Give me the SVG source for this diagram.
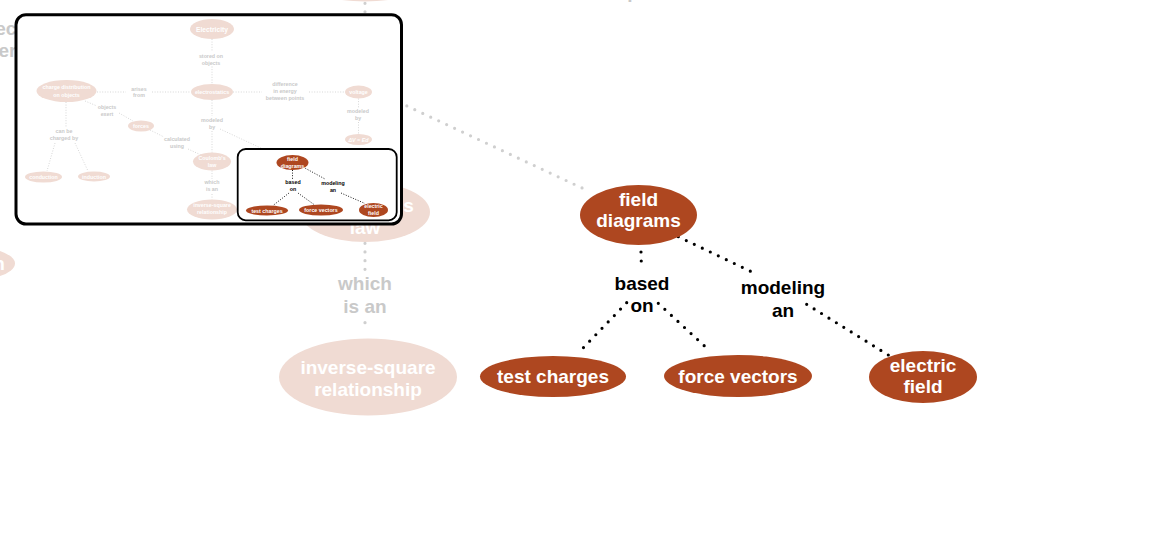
<svg xmlns="http://www.w3.org/2000/svg" width="1173" height="559" viewBox="0 0 1173 559">
<style>
text{font-family:"Liberation Sans",Arial,Helvetica,sans-serif;font-weight:bold;text-anchor:middle}
.t{font-size:19px}
.m{font-size:5.3px}
.w{fill:#ffffff}
.k{fill:#000000}
.g{fill:#c9c9c9}
.fa{fill:#f0dbd3}
.ac{fill:#ae4720}
.dk{fill:none;stroke:#000;stroke-width:3.2;stroke-linecap:round;stroke-dasharray:0 1}
.dg{fill:none;stroke:#cfcfcf;stroke-width:3.2;stroke-linecap:round;stroke-dasharray:0 1}
.mk{fill:none;stroke:#000;stroke-width:0.9;stroke-dasharray:1 1.6}
.mg{fill:none;stroke:#d2d2d2;stroke-width:0.9;stroke-dasharray:1 1.6}
</style>
<rect width="1173" height="559" fill="#ffffff"/>

<g id="connectors">
  <path class="dg" pathLength="6" d="M365,3.3 L365,54"/>
  <path class="dg" pathLength="25" d="M390.9,98.5 L590,191.7"/>
  <path class="dg" pathLength="3" d="M365,243.3 L365,269.3"/>
  <path class="dg" pathLength="1" d="M365,322.7 L365,331.7"/>
  <path class="dk" pathLength="2" d="M641,252 L641.5,270"/>
  <path class="dk" pathLength="8" d="M626.7,302.7 L577.3,354"/>
  <path class="dk" pathLength="8" d="M658.3,303.3 L710.7,351.7"/>
  <path class="dk" pathLength="10" d="M678.3,236.7 L758.3,275"/>
  <path class="dk" pathLength="11" d="M806.7,304.3 L888.3,355"/>
</g>

<g id="node-electrostatics"><ellipse class="fa" cx="365" cy="-27" rx="72" ry="28.5"/></g>
<g id="label-between-points"><text class="t g" x="615" y="-2.5">between points</text></g>
<g id="label-objects-exert"><text class="t g" x="0" y="34.5">objects</text><text class="t g" x="0" y="56.5">exert</text></g>
<g id="node-induction"><ellipse class="fa" cx="-38" cy="263.5" rx="53" ry="18"/><text class="t w" x="-38" y="270">induction</text></g>
<g id="node-coulombs-law"><ellipse class="fa" cx="365" cy="212" rx="65" ry="30"/><text class="t w" x="365" y="212">Coulomb's</text><text class="t w" x="365" y="234">law</text></g>
<g id="label-which-is-an"><text class="t g" x="365" y="290">which</text><text class="t g" x="365" y="313">is an</text></g>
<g id="node-inverse-square"><ellipse class="fa" cx="368" cy="377" rx="89" ry="38.5"/><text class="t w" x="368" y="374">inverse-square</text><text class="t w" x="368" y="395.5">relationship</text></g>

<g id="node-field-diagrams"><ellipse class="ac" cx="638.5" cy="215" rx="58.5" ry="30"/><text class="t w" x="638.5" y="205.7">field</text><text class="t w" x="638.5" y="227.3">diagrams</text></g>
<g id="label-based-on"><text class="t k" x="642" y="289.5">based</text><text class="t k" x="642" y="311.7">on</text></g>
<g id="label-modeling-an"><text class="t k" x="783" y="294">modeling</text><text class="t k" x="783" y="316.5">an</text></g>
<g id="node-test-charges"><ellipse class="ac" cx="553" cy="376.5" rx="73" ry="20.5"/><text class="t w" x="553" y="382.5">test charges</text></g>
<g id="node-force-vectors"><ellipse class="ac" cx="738" cy="376" rx="74" ry="21"/><text class="t w" x="738" y="382.5">force vectors</text></g>
<g id="node-electric-field"><ellipse class="ac" cx="923" cy="377" rx="54" ry="26"/><text class="t w" x="923" y="372">electric</text><text class="t w" x="923" y="392.5">field</text></g>

<g id="minimap">
  <rect x="16" y="14.7" width="385.5" height="209.3" rx="10" fill="#ffffff" stroke="#000" stroke-width="3"/>
  <g id="minimap-connectors">
    <path class="mg" d="M212,39 L212,52 M212,66.5 L212,84"/>
    <path class="mg" d="M97,92 L126,92 M152,92 L191,92"/>
    <path class="mg" d="M233,92 L262,92 M309,92 L345,92"/>
    <path class="mg" d="M358.5,98.5 L358.5,108 M358.5,122 L358.5,134"/>
    <path class="mg" d="M212,100 L212,116 M212,131 L212,152.5"/>
    <path class="mg" d="M220,129 L280,157"/>
    <path class="mg" d="M85,101 L97,106 M119,113 L133,121"/>
    <path class="mg" d="M150,130 L164,137 M188,149 L201,155"/>
    <path class="mg" d="M66,102 L66,128 M55,143 L47,171 M75,143 L88,171"/>
    <path class="mg" d="M212,170.5 L212,179 M212,194 L212,199.5"/>
  </g>
  <g id="mini-electricity"><ellipse class="fa" cx="212" cy="29" rx="22" ry="10"/><text class="w" style="font-size:6.7px" x="212" y="31.5">Electricity</text></g>
  <g id="mini-stored-on"><text class="m g" x="211" y="57.5">stored on</text><text class="m g" x="211" y="64.5">objects</text></g>
  <g id="mini-electrostatics"><ellipse class="fa" cx="212" cy="92" rx="21" ry="8"/><text class="m w" x="212" y="94">electrostatics</text></g>
  <g id="mini-charge-distribution"><ellipse class="fa" cx="66.5" cy="91" rx="30" ry="11"/><text class="m w" x="66.5" y="89.3">charge distribution</text><text class="m w" x="66.5" y="96.5">on objects</text></g>
  <g id="mini-arises-from"><text class="m g" x="139" y="90.5">arises</text><text class="m g" x="139" y="97">from</text></g>
  <g id="mini-difference"><text class="m g" x="285" y="86.3">difference</text><text class="m g" x="285" y="92.9">in energy</text><text class="m g" x="285" y="99.5">between points</text></g>
  <g id="mini-voltage"><ellipse class="fa" cx="358.5" cy="92" rx="13.5" ry="6.5"/><text class="m w" x="358.5" y="94">voltage</text></g>
  <g id="mini-modeled-by-v"><text class="m g" x="358" y="113.3">modeled</text><text class="m g" x="358" y="120">by</text></g>
  <g id="mini-dv"><ellipse class="fa" cx="358.5" cy="139.5" rx="13.5" ry="5.5"/><text class="m w" x="358.5" y="141.5" style="font-style:italic">ΔV = Ed</text></g>
  <g id="mini-objects-exert"><text class="m g" x="107" y="109.3">objects</text><text class="m g" x="107" y="116.3">exert</text></g>
  <g id="mini-forces"><ellipse class="fa" cx="141" cy="126" rx="13" ry="5.5"/><text class="m w" x="141" y="128">forces</text></g>
  <g id="mini-calculated"><text class="m g" x="177" y="141.3">calculated</text><text class="m g" x="177" y="148.3">using</text></g>
  <g id="mini-modeled-by"><text class="m g" x="212" y="122.3">modeled</text><text class="m g" x="212" y="129">by</text></g>
  <g id="mini-coulomb"><ellipse class="fa" cx="212" cy="161.5" rx="19" ry="9"/><text class="m w" x="212" y="159.8">Coulomb's</text><text class="m w" x="212" y="166.5">law</text></g>
  <g id="mini-can-be"><text class="m g" x="64" y="133.3">can be</text><text class="m g" x="64" y="140">charged by</text></g>
  <g id="mini-conduction"><ellipse class="fa" cx="43.5" cy="177" rx="18.5" ry="5.5"/><text class="m w" x="43.5" y="179">conduction</text></g>
  <g id="mini-induction"><ellipse class="fa" cx="94" cy="176.5" rx="16" ry="5"/><text class="m w" x="94" y="178.5">induction</text></g>
  <g id="mini-which"><text class="m g" x="212" y="184.3">which</text><text class="m g" x="212" y="191.3">is an</text></g>
  <g id="mini-inverse"><ellipse class="fa" cx="212" cy="209.5" rx="25" ry="10"/><text class="m w" x="212" y="207.3">inverse-square</text><text class="m w" x="212" y="214">relationship</text></g>

  <rect x="237.7" y="149" width="159" height="71.3" rx="8" fill="#ffffff" stroke="#000" stroke-width="1.8"/>
  <g id="mini-focus-connectors">
    <path class="mk" d="M292.5,170 L292.5,179"/>
    <path class="mk" d="M289,193 L273,205.5"/>
    <path class="mk" d="M298,193 L314,204.5"/>
    <path class="mk" d="M303,167 L325,179"/>
    <path class="mk" d="M341,193 L365,203.5"/>
  </g>
  <g id="mini-field-diagrams"><ellipse class="ac" cx="292.5" cy="162.5" rx="16" ry="7.5"/><text class="m w" x="292.5" y="161">field</text><text class="m w" x="292.5" y="167.5">diagrams</text></g>
  <g id="mini-based-on"><text class="m k" x="293" y="184.3">based</text><text class="m k" x="293" y="191">on</text></g>
  <g id="mini-modeling-an"><text class="m k" x="333" y="185.3">modeling</text><text class="m k" x="333" y="192.3">an</text></g>
  <g id="mini-test-charges"><ellipse class="ac" cx="267" cy="210.5" rx="21" ry="5"/><text class="m w" x="267" y="212.5">test charges</text></g>
  <g id="mini-force-vectors"><ellipse class="ac" cx="321" cy="210" rx="22" ry="5.5"/><text class="m w" x="321" y="212">force vectors</text></g>
  <g id="mini-electric-field"><ellipse class="ac" cx="373.5" cy="210" rx="14.5" ry="7"/><text class="m w" x="373.5" y="208.2">electric</text><text class="m w" x="373.5" y="214.8">field</text></g>
</g>
</svg>
